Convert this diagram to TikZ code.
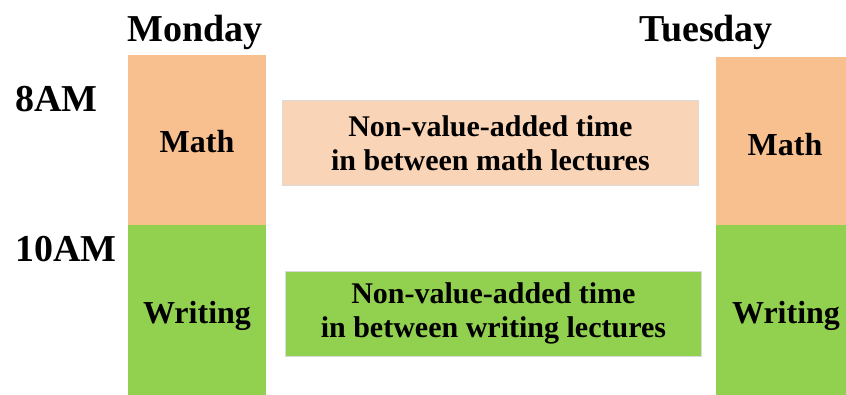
\documentclass[tikz,border=0pt]{standalone}
\usepackage{fontspec}
\setmainfont{Liberation Serif}
\definecolor{mathfill}{HTML}{F8BF8F}
\definecolor{mathlight}{HTML}{FAD4B6}
\definecolor{writefill}{HTML}{92D050}
\definecolor{edgegrey}{HTML}{DADADA}
\tikzset{
  slot/.style={fill=#1, draw=none, inner sep=0pt, anchor=north west},
  gapbox/.style={fill=#1, draw=edgegrey, line width=0.8pt, inner sep=0pt, anchor=north west,
    minimum width=416pt, minimum height=85pt, align=center,
    font=\fontsize{30}{34}\selectfont\bfseries},
  day/.style={font=\fontsize{38}{40}\selectfont\bfseries, inner sep=0pt, anchor=base},
  hour/.style={font=\fontsize{38}{40}\selectfont\bfseries, inner sep=0pt, anchor=base west},
  subject/.style={font=\fontsize{32}{36}\selectfont\bfseries, inner sep=0pt}
}
\begin{document}
\begin{tikzpicture}[x=1pt, y=-1pt]
  \useasboundingbox (0,0) rectangle (846,395);

  % Monday column
  \node[slot=mathfill, minimum width=138pt, minimum height=170pt] (monmath) at (128,55) {};
  \node[slot=writefill, minimum width=138pt, minimum height=170pt] (monwrite) at (128,225) {};
  \node[subject] (monmathlbl) at (197,142) {Math};
  \node[subject] (monwritelbl) at (197,316) {Writing};

  % Tuesday column
  \node[slot=mathfill, minimum width=130pt, minimum height=168pt] (tuemath) at (716,57) {};
  \node[slot=writefill, minimum width=130pt, minimum height=170pt] (tuewrite) at (716,225) {};
  \node[subject] (tuemathlbl) at (785,145) {Math};
  \node[subject] (tuewritelbl) at (786,316) {Writing};

  % Day headings
  \node[day] (monday) at (195,42) {Monday};
  \node[day] (tuesday) at (706,42) {Tuesday};

  % Time labels
  \node[hour] (eight) at (15,112) {8AM};
  \node[hour] (ten) at (15,262) {10AM};

  % Idle time between lectures
  \node[gapbox=mathlight] (mathgap) at (282,100) {Non-value-added time\\in between math lectures};
  \node[gapbox=writefill] (writegap) at (285,271) {Non-value-added time\\in between writing lectures};
\end{tikzpicture}
\end{document}
